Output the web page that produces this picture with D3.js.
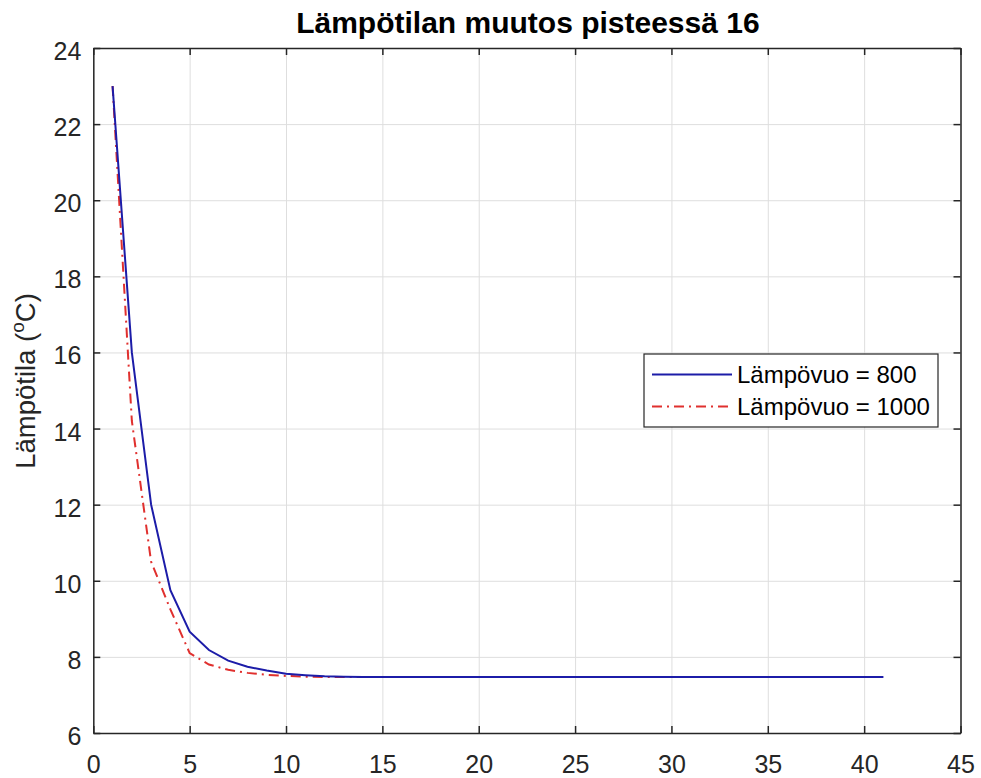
<!DOCTYPE html>
<html>
<head>
<meta charset="utf-8">
<script src="https://cdn.jsdelivr.net/npm/d3@7"></script>
<style>
  html, body { margin: 0; padding: 0; background: #ffffff; }
  svg { display: block; }
</style>
</head>
<body>
<svg id="chart" width="981" height="778"></svg>
<script>
// Time steps (x axis)
const steps = [1, 2, 3, 4, 5, 6, 7, 8, 9, 10, 11, 12, 13, 14, 15, 16, 17, 18, 19, 20,
               21, 22, 23, 24, 25, 26, 27, 28, 29, 30, 31, 32, 33, 34, 35, 36, 37, 38, 39, 40, 41];

// Temperature at point 16, heat flux 800
const temp800 = [23.0, 16.0, 12.0, 9.75, 8.66, 8.18, 7.9, 7.74, 7.64, 7.56, 7.52, 7.49, 7.48, 7.47, 7.47,
                 7.47, 7.47, 7.47, 7.47, 7.47, 7.47, 7.47, 7.47, 7.47, 7.47, 7.47, 7.47, 7.47, 7.47, 7.47,
                 7.47, 7.47, 7.47, 7.47, 7.47, 7.47, 7.47, 7.47, 7.47, 7.47, 7.47];

// Temperature at point 16, heat flux 1000
const temp1000 = [23.0, 14.2, 10.5, 9.25, 8.1, 7.8, 7.66, 7.58, 7.53, 7.5, 7.48, 7.47, 7.47, 7.47, 7.47,
                  7.47, 7.47, 7.47, 7.47, 7.47, 7.47, 7.47, 7.47, 7.47, 7.47, 7.47, 7.47, 7.47, 7.47, 7.47,
                  7.47, 7.47, 7.47, 7.47, 7.47, 7.47, 7.47, 7.47, 7.47, 7.47, 7.47];

const xTicks = [0, 5, 10, 15, 20, 25, 30, 35, 40, 45];
const yTicks = [6, 8, 10, 12, 14, 16, 18, 20, 22, 24];
const seriesNames = ["Lämpövuo = 800", "Lämpövuo = 1000"];
const titleText = "Lämpötilan muutos pisteessä 16";

const FONT = "'Liberation Sans', Arial, Helvetica, sans-serif";
const AXIS_COLOR = "#262626";
const GRID_COLOR = "#dedede";
const BLUE = "#1c1ca8";
const RED = "#e0302e";

const svg = d3.select("#chart");
const plotLeft = 93.3, plotRight = 960.5, plotTop = 48, plotBottom = 733;

const x = d3.scaleLinear().domain([0, 45]).range([plotLeft, plotRight]);
const y = d3.scaleLinear().domain([6, 24]).range([plotBottom, plotTop]);

// Grid
const grid = svg.append("g");
grid.append("g")
  .attr("transform", `translate(0,${plotBottom})`)
  .call(d3.axisBottom(x).tickValues(xTicks).tickSize(-(plotBottom - plotTop)).tickFormat(""))
  .call(g => g.select(".domain").remove())
  .call(g => g.selectAll("line").attr("stroke", GRID_COLOR).attr("stroke-width", 1));
grid.append("g")
  .attr("transform", `translate(${plotLeft},0)`)
  .call(d3.axisLeft(y).tickValues(yTicks).tickSize(-(plotRight - plotLeft)).tickFormat(""))
  .call(g => g.select(".domain").remove())
  .call(g => g.selectAll("line").attr("stroke", GRID_COLOR).attr("stroke-width", 1));

// Series lines
const line = d3.line().x((d, i) => x(steps[i])).y(d => y(d));

svg.append("path")
  .datum(temp1000)
  .attr("d", line)
  .attr("fill", "none")
  .attr("stroke", RED)
  .attr("stroke-width", 2)
  .attr("stroke-dasharray", "10,5,2,5");

svg.append("path")
  .datum(temp800)
  .attr("d", line)
  .attr("fill", "none")
  .attr("stroke", BLUE)
  .attr("stroke-width", 2);

// Axes with inward ticks on all four sides
function styleAxis(g) {
  g.attr("font-family", FONT).attr("font-size", 25);
  g.select(".domain").attr("stroke", AXIS_COLOR).attr("stroke-width", 1.5);
  g.selectAll(".tick line").attr("stroke", AXIS_COLOR).attr("stroke-width", 1.5);
  g.selectAll(".tick text").attr("fill", AXIS_COLOR);
}

svg.append("g")
  .attr("transform", `translate(0,${plotBottom})`)
  .call(d3.axisBottom(x).tickValues(xTicks).tickSize(-7).tickSizeOuter(0).tickPadding(22))
  .call(styleAxis);

svg.append("g")
  .attr("transform", `translate(0,${plotTop})`)
  .call(d3.axisTop(x).tickValues(xTicks).tickSize(-7).tickSizeOuter(0).tickFormat(""))
  .call(styleAxis);

svg.append("g")
  .attr("transform", `translate(${plotLeft},0)`)
  .call(d3.axisLeft(y).tickValues(yTicks).tickSize(-7).tickSizeOuter(0).tickPadding(12))
  .call(styleAxis)
  .call(g => g.selectAll(".tick text").attr("dy", "0.46em"));

svg.append("g")
  .attr("transform", `translate(${plotRight},0)`)
  .call(d3.axisRight(y).tickValues(yTicks).tickSize(-7).tickSizeOuter(0).tickFormat(""))
  .call(styleAxis);

// Title
svg.append("text")
  .attr("x", (plotLeft + plotRight) / 2 + 1)
  .attr("y", 33)
  .attr("text-anchor", "middle")
  .attr("font-family", FONT)
  .attr("font-size", 30)
  .attr("font-weight", "bold")
  .attr("fill", "#000000")
  .text(titleText);

// Y-axis label with superscript degree
const yLabel = svg.append("text")
  .attr("transform", "translate(35,381) rotate(-90)")
  .attr("text-anchor", "middle")
  .attr("font-family", FONT)
  .attr("font-size", 27.5)
  .attr("fill", AXIS_COLOR);
yLabel.append("tspan").text("Lämpötila (");
yLabel.append("tspan").attr("font-size", 19).attr("dy", -11).text("o");
yLabel.append("tspan").attr("dy", 11).text("C)");

// Legend
const legend = svg.append("g").attr("transform", "translate(644,354)");
legend.append("rect")
  .attr("width", 294).attr("height", 73)
  .attr("fill", "#ffffff")
  .attr("stroke", AXIS_COLOR)
  .attr("stroke-width", 1.2);

const legendItems = [
  { name: seriesNames[0], color: BLUE, dash: null, cy: 20.5 },
  { name: seriesNames[1], color: RED, dash: "10,5,2,5", cy: 52.5 }
];
legendItems.forEach(item => {
  legend.append("line")
    .attr("x1", 8).attr("x2", 88)
    .attr("y1", item.cy).attr("y2", item.cy)
    .attr("stroke", item.color)
    .attr("stroke-width", 2)
    .attr("stroke-dasharray", item.dash);
  legend.append("text")
    .attr("x", 93)
    .attr("y", item.cy)
    .attr("dy", "0.35em")
    .attr("font-family", FONT)
    .attr("font-size", 24)
    .attr("fill", "#000000")
    .text(item.name);
});
</script>
</body>
</html>
